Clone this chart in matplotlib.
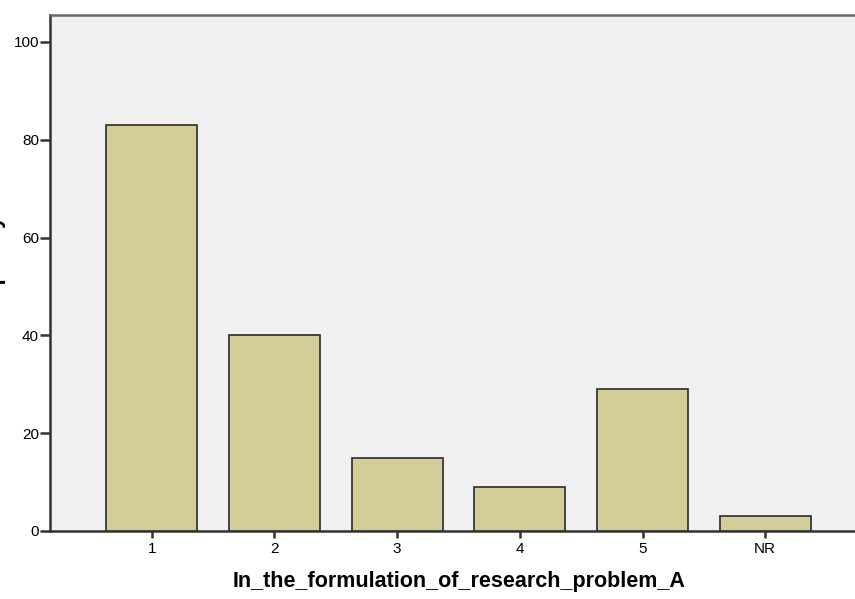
import matplotlib
matplotlib.use("Agg")
import matplotlib.pyplot as plt

categories = ["1", "2", "3", "4", "5", "NR"]
frequencies = [83, 40, 15, 9, 29, 3]
y_ticks = [0, 20, 40, 60, 80, 100]
x_label = "In_the_formulation_of_research_problem_A"
y_label = "Frequency"

plt.rcParams['font.family'] = ['Liberation Sans', 'DejaVu Sans']

W, H = 855, 599
fig = plt.figure(figsize=(W / 100, H / 100), dpi=100)
fig.patch.set_facecolor('white')
ax = fig.add_axes([50 / W, (H - 531) / H, (867 - 50) / W, (531 - 15) / H])
ax.set_facecolor('#f0f0f0')

pos = list(range(len(categories)))
ax.bar(pos, frequencies, width=0.74, color='#d3ce97', edgecolor='#2b2b2b', linewidth=1.2, zorder=3)

ax.set_xlim(-0.83, len(categories) - 1 + 0.83)
ax.set_ylim(0, 105.5)
ax.set_yticks(y_ticks)
ax.set_xticks(pos)
ax.set_xticklabels(categories)

for s in ['left', 'bottom']:
    ax.spines[s].set_color('#333333')
    ax.spines[s].set_linewidth(1.8)
ax.spines['top'].set_color('#666666')
ax.spines['top'].set_linewidth(1.8)
ax.spines['right'].set_visible(False)

ax.tick_params(axis='y', direction='out', length=7, width=1.8, color='#333333', labelsize=11, pad=1)
ax.tick_params(axis='x', direction='out', length=5, width=1.8, color='#333333', labelsize=11, pad=3)

fig.text(459 / W, (H - 582) / H, x_label, ha='center', va='center',
         fontsize=15.5, fontweight='bold')
fig.text(5 / W, (H - 268) / H, y_label, rotation=90, ha='right', va='center',
         fontsize=15.5, fontweight='bold')

fig.savefig("out.png", dpi=100)
